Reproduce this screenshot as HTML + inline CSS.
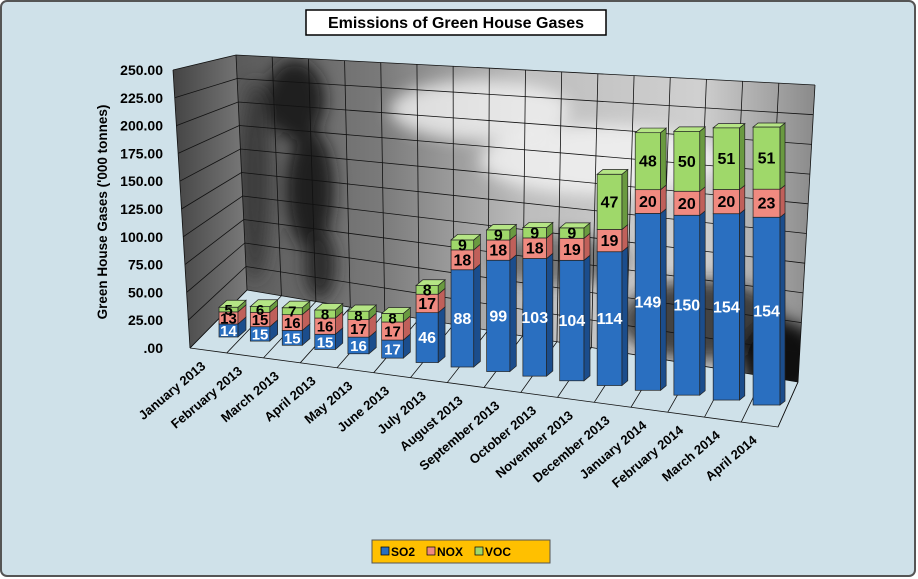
<!DOCTYPE html>
<html><head><meta charset="utf-8"><style>
html,body{margin:0;padding:0;background:#fff;}
svg{display:block;font-family:"Liberation Sans",Arial,sans-serif;}
</style></head><body>
<svg id="s" width="918" height="579" viewBox="0 0 918 579" xmlns="http://www.w3.org/2000/svg">
<defs>
<linearGradient id="wall" x1="0" y1="0" x2="1" y2="0">
<stop offset="0" stop-color="#5a5a5a"/><stop offset="0.25" stop-color="#7a7a7a"/><stop offset="0.5" stop-color="#bdbdbd"/><stop offset="0.8" stop-color="#d0d0d0"/><stop offset="1" stop-color="#8a8a8a"/></linearGradient>
<linearGradient id="side" x1="0" y1="0" x2="1" y2="0"><stop offset="0" stop-color="#444"/><stop offset="1" stop-color="#7a7a7a"/></linearGradient>
<filter id="bl"><feGaussianBlur stdDeviation="8"/></filter>
<clipPath id="wc"><polygon points="236,55 815,85 798,382 247,290"/></clipPath>
</defs>
<rect x="1" y="1" width="914" height="575" rx="6" fill="#cfe1e9" stroke="#555" stroke-width="2"/>
<polygon points="236,55 815,85 798,382 247,290" fill="url(#wall)"/>
<g clip-path="url(#wc)" filter="url(#bl)">
<ellipse cx="295" cy="100" rx="30" ry="40" fill="#1a1a1a" opacity="0.9"/>
<ellipse cx="310" cy="190" rx="24" ry="60" fill="#151515" opacity="0.9"/>
<ellipse cx="320" cy="265" rx="16" ry="35" fill="#222" opacity="0.9"/>
<ellipse cx="255" cy="180" rx="16" ry="100" fill="#333" opacity="0.8"/>
<ellipse cx="480" cy="110" rx="90" ry="30" fill="#f2f2f2" opacity="0.8"/>
<ellipse cx="600" cy="160" rx="120" ry="35" fill="#f5f5f5" opacity="0.8"/>
<ellipse cx="700" cy="320" rx="80" ry="40" fill="#222" opacity="0.8"/>
<ellipse cx="780" cy="360" rx="40" ry="40" fill="#000" opacity="0.9"/>
<ellipse cx="560" cy="260" rx="70" ry="25" fill="#444" opacity="0.6"/>
</g>
<polygon points="173,70 236,55 247,290 190,348" fill="url(#side)"/>
<g id="grid" stroke="#111" stroke-width="0.8" fill="none"></g>
<g id="bars"></g>
<g id="labels" font-weight="bold" font-size="14" fill="#000"></g>
<text x="107" y="212" transform="rotate(-90 107 212)" font-size="13.5" font-weight="bold" text-anchor="middle">Green House Gases ('000 tonnes)</text>
<rect x="306" y="10" width="300" height="25" fill="#fff" stroke="#000" stroke-width="1.5"/>
<text x="456" y="28" font-size="16" font-weight="bold" text-anchor="middle">Emissions of Green House Gases</text>
<rect x="372" y="540" width="178" height="23" fill="#ffc000" stroke="#555"/>
<rect x="381" y="547" width="8" height="8" fill="#2a6fc0" stroke="#000" stroke-width="0.7"/>
<text x="391" y="556" font-size="12" font-weight="bold">SO2</text>
<rect x="427" y="547" width="8" height="8" fill="#f08a80" stroke="#000" stroke-width="0.7"/>
<text x="437" y="556" font-size="12" font-weight="bold">NOX</text>
<rect x="475" y="547" width="8" height="8" fill="#9fd86a" stroke="#000" stroke-width="0.7"/>
<text x="485" y="556" font-size="12" font-weight="bold">VOC</text>
</svg>
<script>
var NS="http://www.w3.org/2000/svg";
function el(p,t,a,txt){var e=document.createElementNS(NS,t);for(var k in a)e.setAttribute(k,a[k]);if(txt!=null)e.textContent=txt;p.appendChild(e);return e;}
var g=document.getElementById('grid'),b=document.getElementById('bars'),L=document.getElementById('labels');
function lerp(a,b,t){return [a[0]+(b[0]-a[0])*t,a[1]+(b[1]-a[1])*t];}
var TL=[236,55],TR=[815,85],BR=[798,382],BL=[247,290],FL=[190,348],FR=[778,427],SF=[173,70];
for(var k=0;k<=10;k++){var t=k/10;var l=lerp(BL,TL,t),r=lerp(BR,TR,t),f=lerp(FL,SF,t);
el(g,'path',{d:'M'+f+' L'+l+' L'+r});}
for(var k=0;k<=16;k++){var t=k/16;var a=lerp(TL,TR,t),c=lerp(BL,BR,t),f=lerp(FL,FR,t);
el(g,'path',{d:'M'+a+' L'+c+' L'+f});}
el(g,'path',{d:'M'+FL+' L'+FR+' L'+BR});
el(g,'path',{d:'M'+SF+' L'+FL});
var ylab=['.00','25.00','50.00','75.00','100.00','125.00','150.00','175.00','200.00','225.00','250.00'];
for(var k=0;k<=10;k++){el(L,'text',{x:163,y:353-k*27.8,'text-anchor':'end'},ylab[k]);}
var so=[14,15,15,15,16,17,46,88,99,103,104,114,149,150,154,154],
no=[13,15,16,16,17,17,17,18,18,18,19,19,20,20,20,23],
vo=[5,6,7,8,8,8,8,9,9,9,9,47,48,50,51,51];
var m=['January 2013','February 2013','March 2013','April 2013','May 2013','June 2013','July 2013','August 2013','September 2013','October 2013','November 2013','December 2013','January 2014','February 2014','March 2014','April 2014'];
var cols=[['#2a6fc0','#1b4d8c','#4a88d4','#fff'],['#f08a80','#c0605a','#f5a8a0','#000'],['#9fd86a','#6a9a40','#b5e585','#000']];
for(var i=0;i<16;i++){
 var x=219+31.0*i+0.307*i*i, w=19+0.53*i, y0=337+4.07*i+0.031*i*i, sc=0.93+0.0300*i-0.000714*i*i;
 var dx=8-0.2*i, dy=-(7-0.2*i);
 var vals=[so[i],no[i],vo[i]], y=y0;
 for(var s=0;s<3;s++){
  var h=vals[s]*sc, yt=y-h, c=cols[s];
  el(b,'rect',{x:x,y:yt,width:w,height:h,fill:c[0],stroke:'#222','stroke-width':0.7});
  el(b,'polygon',{points:[x+w,y,x+w+dx,y+dy,x+w+dx,yt+dy,x+w,yt].join(' '),fill:c[1],stroke:'#222','stroke-width':0.7});
  if(s==2) el(b,'polygon',{points:[x,yt,x+dx,yt+dy,x+w+dx,yt+dy,x+w,yt].join(' '),fill:c[2],stroke:'#222','stroke-width':0.7});
  el(b,'text',{x:x+w/2,y:yt+h/2+5.5,'text-anchor':'middle','font-size':(i<6?15:16),'font-weight':'bold',fill:c[3]},vals[s]);
  y=yt;
 }
 var e=lerp(FL,FR,(i+0.5)/16);
 el(L,'text',{x:e[0]-2,y:e[1]+17,'text-anchor':'end',transform:'rotate(-40 '+(e[0]-2)+' '+(e[1]+17)+')','font-size':13},m[i]);
}
</script>
</body></html>
